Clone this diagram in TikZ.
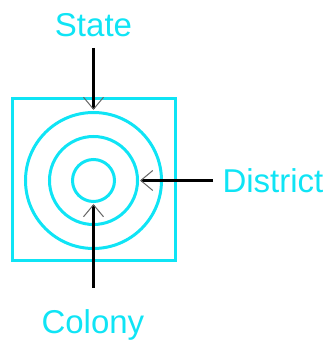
\documentclass[tikz,border=0pt]{standalone}
\usepackage{fontspec}
\setmainfont{Liberation Sans}
\usetikzlibrary{arrows.meta}
\definecolor{cy}{RGB}{15,228,245}
\tikzset{
  ring/.style={circle, draw=cy, line width=3pt, inner sep=0pt, minimum size=#1},
  lbl/.style={text=cy, font=\fontsize{33}{39}\selectfont},
  arr/.style={line width=3pt, black, -{Straight Barb[length=12pt, width=20pt, line width=1pt, color=gray!80!black]}, shorten >=1pt}
}
\begin{document}
\begin{tikzpicture}[x=1pt,y=1pt]
\useasboundingbox (0,0) rectangle (326,341);
\node[draw=cy, line width=3pt, minimum width=163pt, minimum height=162pt, inner sep=0pt] (box) at (93.5,161) {};
\node[ring=136pt] (outer) at (93.5,160.5) {};
\node[ring=88pt] (mid) at (93.5,160.5) {};
\node[ring=42pt] (inner) at (93.5,160.5) {};
\node[lbl, anchor=base] (state) at (93.5,304) {State};
\node[lbl, anchor=base west] (district) at (219,149) {District};
\node[lbl, anchor=base west] (colony) at (38,8) {Colony};
\draw[arr, shorten <=7pt] (state.south -| outer.north) -- (outer.north);
\draw[arr, shorten <=6pt] (district.west |- mid.east) -- (mid.east);
\draw[arr, shorten <=18pt] (colony.north -| inner.south) -- (inner.south);
\end{tikzpicture}
\end{document}
